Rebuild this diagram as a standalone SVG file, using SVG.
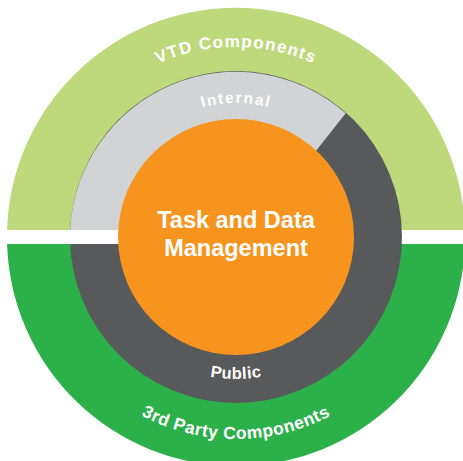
<svg xmlns="http://www.w3.org/2000/svg" xmlns:xlink="http://www.w3.org/1999/xlink" width="463" height="461" viewBox="0 0 463 461">
  <style>
    .lbl { font-family: "Liberation Sans", Arial, sans-serif; font-weight: bold; fill: #ffffff; text-anchor: middle; }
  </style>
  <defs>
    <path id="pVTD" d="M 46,237 A 190 190 0 0 1 426,237"/>
    <path id="pInt" d="M 102,237 A 134 134 0 0 1 370,237"/>
    <path id="pPub" d="M 94,237 A 142 142 0 0 0 378,237"/>
    <path id="p3rd" d="M 34,237 A 202 202 0 0 0 438,237"/>
  </defs>
  <rect width="463" height="461" fill="#ffffff"/>
  <g id="vtd-components">
    <path d="M 7.1,230 A 229 229 0 0 1 464.9,230 Z" fill="#BDD97B"/>
    <text class="lbl" font-size="17" letter-spacing="1.3"><textPath href="#pVTD" xlink:href="#pVTD" startOffset="50%">VTD Components</textPath></text>
  </g>
  <g id="third-party-components">
    <path d="M 7.1,244 A 229 229 0 0 0 464.9,244 Z" fill="#2CB04A"/>
    <text class="lbl" font-size="17.5" letter-spacing="0.5"><textPath href="#p3rd" xlink:href="#p3rd" startOffset="50%">3rd Party Components</textPath></text>
  </g>
  <g id="public">
    <circle cx="236" cy="237" r="166" fill="#58595B"/>
  </g>
  <g id="internal">
    <path d="M 70.15,230 A 166 166 0 0 1 345.7,113.3 L 316.7,150 L 236,230 Z" fill="#D1D3D4"/>
    <rect x="64" y="230" width="66" height="14" fill="#ffffff"/>
    <text class="lbl" font-size="15.5" letter-spacing="1.6"><textPath href="#pInt" xlink:href="#pInt" startOffset="50%">Internal</textPath></text>
  </g>
  <g id="task-and-data-management">
    <circle cx="236" cy="237" r="118" fill="#F7941E"/>
    <text class="lbl" font-size="23.5" x="236" y="228">Task and Data</text>
    <text class="lbl" font-size="23.5" x="236" y="256">Management</text>
  </g>
  <g id="public-label">
    <text class="lbl" font-size="16.5" letter-spacing="0.5"><textPath href="#pPub" xlink:href="#pPub" startOffset="50%">Public</textPath></text>
  </g>
  <g id="connectors"/>
</svg>
